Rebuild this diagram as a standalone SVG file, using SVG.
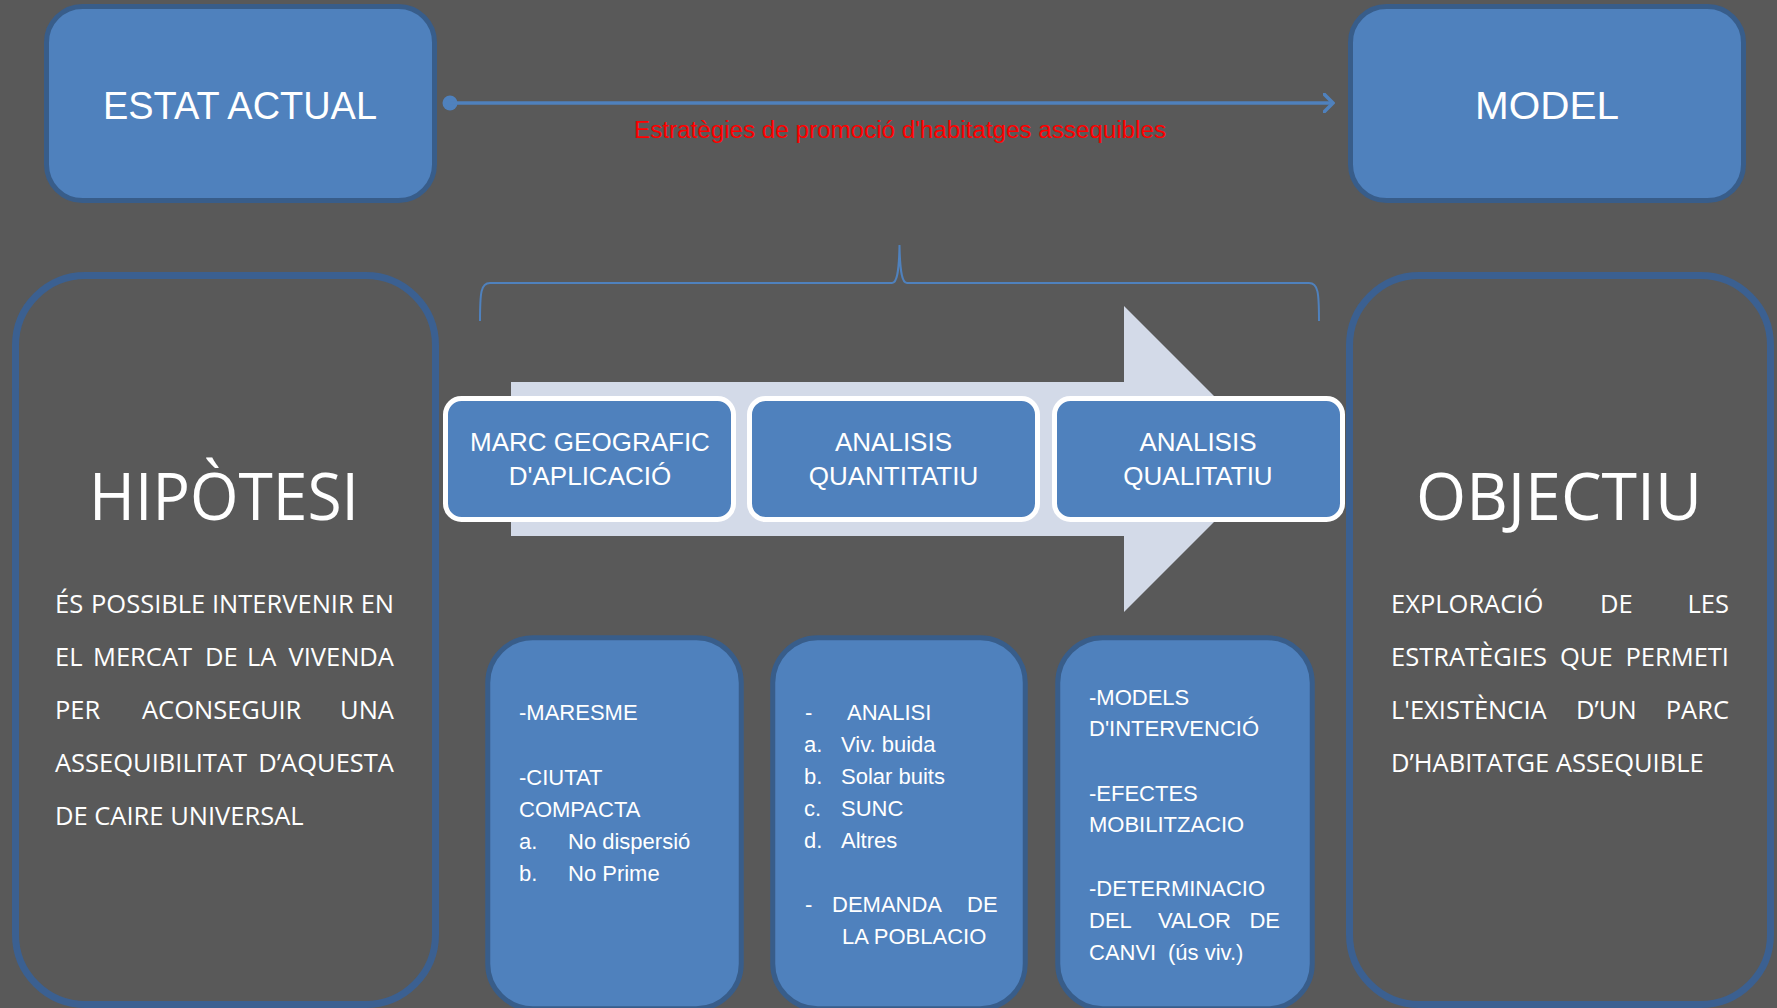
<svg xmlns="http://www.w3.org/2000/svg" width="1777" height="1008" viewBox="0 0 1777 1008">
<defs>
<style>
.bg{fill:#595959}
.box{fill:#4f81bd;stroke:#385d8a;stroke-width:5}
.big{fill:none;stroke:#3b6091;stroke-width:7}
.step{fill:#4f81bd;stroke:#ffffff;stroke-width:5}
.cal{font-family:"Liberation Sans",Arial,sans-serif;fill:#ffffff}
.os{font-family:"Open Sans","Liberation Sans",sans-serif;fill:#ffffff}
.title{font-size:39px;text-anchor:middle}
.steptxt{font-size:26px;text-anchor:middle}
.body{font-size:22px}
.para{font-size:25.5px}
.end{text-anchor:end}
.head{font-size:66px;text-anchor:middle}
.red{font-family:"Liberation Sans",Arial,sans-serif;font-size:23px;fill:#ff0000;text-anchor:middle}
.conn{fill:none;stroke:#4f81bd;stroke-width:3.5}
</style>
<marker id="open" markerWidth="12" markerHeight="20" refX="10" refY="10" orient="auto" markerUnits="userSpaceOnUse">
<path d="M1,1 L10,10 L1,19" fill="none" stroke="#4f81bd" stroke-width="3.5" stroke-linecap="round"/>
</marker>
</defs>
<rect class="bg" x="0" y="0" width="1777" height="1008"/>

<g id="estat-actual">
<rect class="box" x="46.5" y="6.5" width="388" height="194" rx="36"/>
<text class="cal title" x="240" y="119" textLength="274" lengthAdjust="spacingAndGlyphs">ESTAT ACTUAL</text>
</g>

<g id="model">
<rect class="box" x="1350.5" y="6.5" width="393" height="194" rx="36"/>
<text class="cal title" x="1547" y="119" textLength="144" lengthAdjust="spacingAndGlyphs">MODEL</text>
</g>

<g id="connectors">
<circle cx="450" cy="103" r="7.5" fill="#4f81bd"/>
<line class="conn" x1="450" y1="103" x2="1333" y2="103" marker-end="url(#open)"/>
<text class="red" x="900" y="138" textLength="532" lengthAdjust="spacingAndGlyphs">Estratègies de promoció d'habitatges assequibles</text>
<path d="M480,321 C480,292 481,283 490,283 L892,283 C897,283 899,272 899.5,245 C900,272 902,283 907,283 L1309,283 C1318,283 1319,292 1319,321" fill="none" stroke="#4f81bd" stroke-width="2"/>
</g>

<g id="hipotesi">
<rect class="big" x="15.5" y="275.5" width="420" height="729" rx="70"/>
<text class="os head" x="224" y="520" textLength="270" lengthAdjust="spacingAndGlyphs">HIPÒTESI</text>
<g class="os para">
<text x="55" y="613">ÉS</text><text x="91" y="613">POSSIBLE</text><text x="212" y="613">INTERVENIR</text><text class="end" x="394" y="613">EN</text>
<text x="55" y="666">EL</text><text x="93" y="666">MERCAT</text><text x="205" y="666">DE</text><text x="247" y="666">LA</text><text class="end" x="394" y="666">VIVENDA</text>
<text x="55" y="719">PER</text><text x="142" y="719">ACONSEGUIR</text><text class="end" x="394" y="719">UNA</text>
<text x="55" y="772">ASSEQUIBILITAT</text><text class="end" x="394" y="772">D’AQUESTA</text>
<text x="55" y="825">DE CAIRE UNIVERSAL</text>
</g>
</g>

<g id="objectiu">
<rect class="big" x="1349.5" y="275.5" width="421" height="729" rx="70"/>
<text class="os head" x="1559" y="520" textLength="286" lengthAdjust="spacingAndGlyphs">OBJECTIU</text>
<g class="os para">
<text x="1391" y="613">EXPLORACIÓ</text><text x="1600" y="613">DE</text><text class="end" x="1729" y="613">LES</text>
<text x="1391" y="666">ESTRATÈGIES</text><text x="1560" y="666">QUE</text><text class="end" x="1729" y="666">PERMETI</text>
<text x="1391" y="719">L'EXISTÈNCIA</text><text x="1576" y="719">D’UN</text><text class="end" x="1729" y="719">PARC</text>
<text x="1391" y="772">D’HABITATGE ASSEQUIBLE</text>
</g>
</g>

<g id="process-arrow">
<polygon points="511,382 1124,382 1124,306 1277,459 1124,612 1124,536 511,536" fill="#d3dae8"/>
</g>

<g id="marc-geografic">
<rect class="step" x="445.5" y="398.5" width="288" height="121" rx="16"/>
<text class="cal steptxt" x="590" y="451">MARC GEOGRAFIC</text>
<text class="cal steptxt" x="590" y="485">D'APLICACIÓ</text>
</g>
<g id="analisis-quantitatiu">
<rect class="step" x="749.5" y="398.5" width="288" height="121" rx="16"/>
<text class="cal steptxt" x="893.5" y="451">ANALISIS</text>
<text class="cal steptxt" x="893.5" y="485">QUANTITATIU</text>
</g>
<g id="analisis-qualitatiu">
<rect class="step" x="1054.5" y="398.5" width="288" height="121" rx="16"/>
<text class="cal steptxt" x="1198" y="451">ANALISIS</text>
<text class="cal steptxt" x="1198" y="485">QUALITATIU</text>
</g>

<g id="detall-marc">
<rect class="box" x="487.75" y="637.75" width="253.5" height="371" rx="45"/>
<g class="cal body">
<text x="519" y="720">-MARESME</text>
<text x="519" y="785">-CIUTAT</text>
<text x="519" y="817">COMPACTA</text>
<text x="519" y="849">a.</text><text x="568" y="849">No dispersió</text>
<text x="519" y="881">b.</text><text x="568" y="881">No Prime</text>
</g>
</g>

<g id="detall-quantitatiu">
<rect class="box" x="772.75" y="637.75" width="252.5" height="371" rx="45"/>
<g class="cal body">
<text x="805" y="720">-</text><text x="847" y="720">ANALISI</text>
<text x="804" y="752">a.</text><text x="841" y="752">Viv. buida</text>
<text x="804" y="784">b.</text><text x="841" y="784">Solar buits</text>
<text x="804" y="816">c.</text><text x="841" y="816">SUNC</text>
<text x="804" y="848">d.</text><text x="841" y="848">Altres</text>
<text x="805" y="912">-</text><text x="832" y="912">DEMANDA</text><text x="967" y="912">DE</text>
<text x="842" y="944">LA POBLACIO</text>
</g>
</g>

<g id="detall-qualitatiu">
<rect class="box" x="1057.75" y="637.75" width="254.5" height="371" rx="45"/>
<g class="cal body">
<text x="1089" y="705">-MODELS</text>
<text x="1089" y="736">D'INTERVENCIÓ</text>
<text x="1089" y="801">-EFECTES</text>
<text x="1089" y="832">MOBILITZACIO</text>
<text x="1089" y="896">-DETERMINACIO</text>
<text x="1089" y="928">DEL</text><text x="1158" y="928">VALOR</text><text class="end" x="1280" y="928">DE</text>
<text x="1089" y="960">CANVI</text><text x="1168" y="960">(ús viv.)</text>
</g>
</g>
</svg>
